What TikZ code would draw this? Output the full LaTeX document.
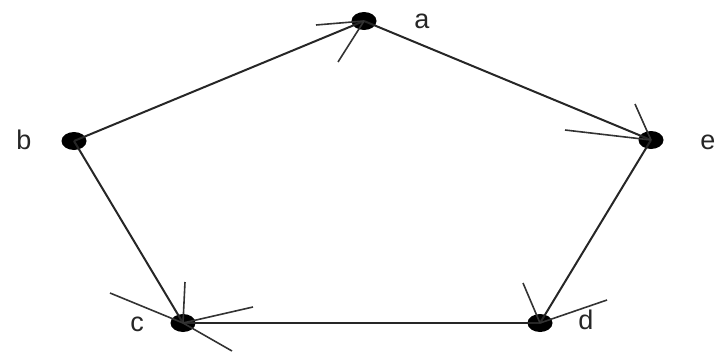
\documentclass[tikz,border=0pt]{standalone}
\usepackage{fontspec}
\setmainfont{Liberation Sans}
\usetikzlibrary{shapes.geometric}
\begin{document}
\begin{tikzpicture}[x=1pt,y=-1pt,
  dot/.style={ellipse, fill=black, minimum width=25pt, minimum height=18pt, inner sep=0pt},
  lbl/.style={font=\fontsize{27}{27}\selectfont, inner sep=0pt, text=black!85},
  edge/.style={line width=2pt, draw=black!85},
  barb/.style={line width=1.6pt, draw=black!80}]
\useasboundingbox (0,0) rectangle (715,356);
\node[dot] (a) at (364,21) {};
\node[dot] (b) at (74,141) {};
\node[dot] (e) at (651,140) {};
\node[dot] (c) at (183,323) {};
\node[dot] (d) at (540,323) {};
\node[lbl] (la) at (422,21) {a};
\node[lbl] (lb) at (24,140) {b};
\node[lbl] (le) at (708,142) {e};
\node[lbl] (lc) at (137,324) {c};
\node[lbl] (ld) at (586,320) {d};
% edges
\draw[edge] (b.center) -- (a.center);
\draw[edge] (a.center) -- (e.center);
\draw[edge] (e.center) -- (d.center);
\draw[edge] (b.center) -- (c.center);
\draw[edge] (c.center) -- (d.center);
% barbs
\coordinate (a1) at (316,25);
\coordinate (a2) at (338,62);
\draw[barb] (a1) -- (a.center);
\draw[barb] (a2) -- (a.center);
\coordinate (e1) at (565,130);
\coordinate (e2) at (635,104);
\draw[barb] (e1) -- (e.center);
\draw[barb] (e2) -- (e.center);
\coordinate (c1) at (185,282);
\coordinate (c2) at (110,293);
\coordinate (c3) at (253,307);
\coordinate (c4) at (232,351);
\draw[barb] (c1) -- (c.center);
\draw[barb] (c2) -- (c.center);
\draw[barb] (c3) -- (c.center);
\draw[barb] (c4) -- (c.center);
\coordinate (d1) at (523,283);
\coordinate (d2) at (607,300);
\draw[barb] (d1) -- (d.center);
\draw[barb] (d2) -- (d.center);
\end{tikzpicture}
\end{document}
